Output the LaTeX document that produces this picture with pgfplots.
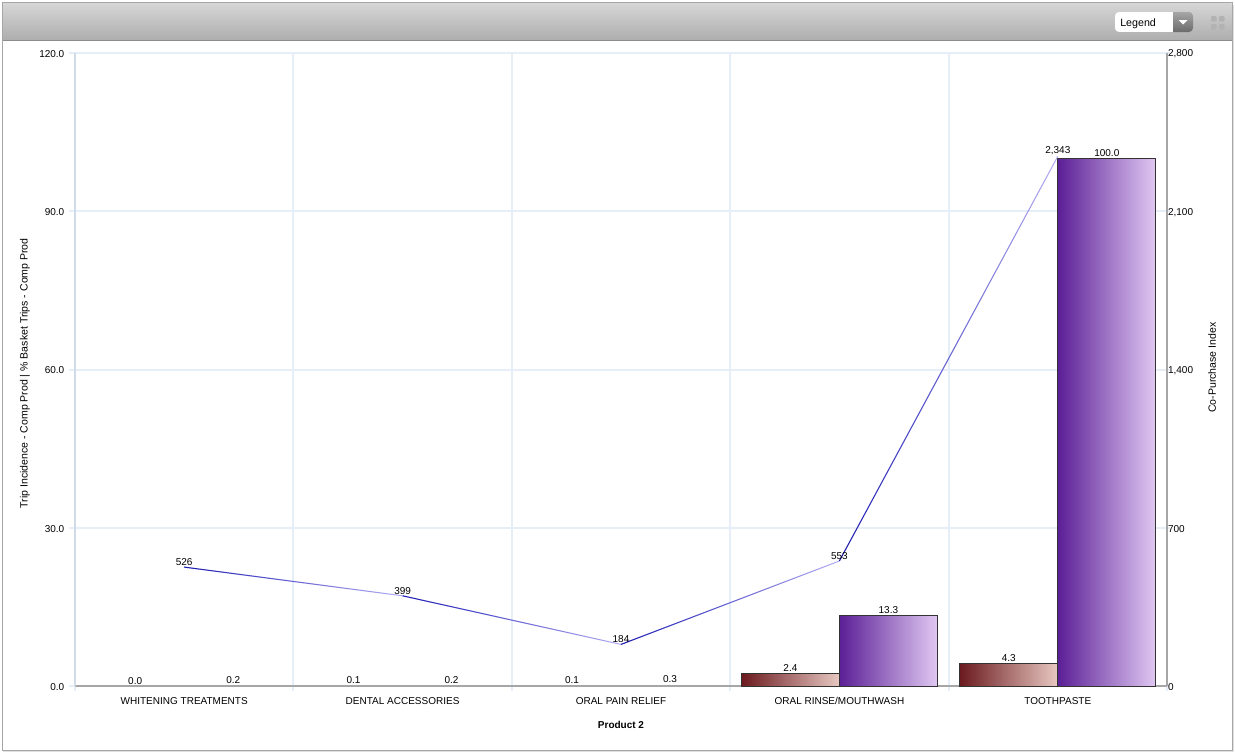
\documentclass[border=0pt]{standalone}
\usepackage{fontspec}
\setmainfont{Liberation Sans}
\usepackage{pgfplots}
\usepackage{pgfplotstable}
\pgfplotsset{compat=1.18}
\usetikzlibrary{fadings}

\definecolor{gridc}{HTML}{E6EEF8}
\definecolor{yaxc}{HTML}{D0DBE9}
\definecolor{axc}{HTML}{A6A6A6}
\definecolor{barline}{HTML}{333333}
\definecolor{marL}{HTML}{6B1A1E}
\definecolor{marR}{HTML}{E8C8C2}
\definecolor{purL}{HTML}{5B1F96}
\definecolor{purR}{HTML}{E0C8F2}
\definecolor{lineD}{HTML}{1C1CB0}
\definecolor{lineL}{HTML}{B4AEF4}

% x = category position, 0 to 4
\pgfplotstableread{
x trip
0 0.0
1 0.1
2 0.1
}\tripsmall
\pgfplotstableread{
x basket
0 0.2
1 0.2
2 0.3
}\basketsmall
\pgfplotstableread{
x index
0 526
1 399
2 184
3 553
4 2343
}\copurchase

\pgfplotsset{
  common/.style={
    scale only axis, width=819pt, height=474.75pt,
    at={(56.25pt,-514.5pt)}, anchor=south west,
    xmin=-0.5, xmax=4.5, ymin=0,
    tick label style={font=\fontsize{7.5}{9}\selectfont},
    label style={font=\fontsize{7.9}{9}\selectfont},
    /pgf/number format/assume math mode=true,
    axis line style={-},
  },
  seg/.style={draw=lineD, line width=0.75pt, path fading=east},
  seglight/.style={draw=lineL, line width=0.75pt},
  barlab/.style={
    nodes near coords,
    every node near coord/.style={font=\fontsize{7.5}{9}\selectfont, inner sep=1pt, text=black,
      xshift=#1,
      /pgf/number format/.cd, fixed, fixed zerofill, precision=1, assume math mode=true},
  },
  tripbar/.style={bar shift=-0.2243, barlab=-36.75pt},
  basketbar/.style={bar shift=0.2243, barlab=36.75pt},
  shown/.style={draw=barline, line width=0.75pt},
}

\begin{document}
\begin{tikzpicture}
\useasboundingbox (0,0) rectangle (926.25pt,-565.5pt);
\begin{scope}[x=0.75pt,y=-0.75pt]
  \fill[white] (0,0) rectangle (1235,754);
  \fill[black!12] (3,5) rectangle (1234,752);
  \fill[white] (2.5,2.5) rectangle (1232,750);
  \draw[axc, line width=0.75pt] (2.5,2.5) rectangle (1232,750);
  \shade[top color=black!16, bottom color=black!32] (3,3) rectangle (1231.5,40);
  \draw[black!45, line width=0.5pt] (3,40) -- (1231.5,40);
  % legend drop-down
  \begin{scope}
    \clip[rounded corners=3pt] (1115,12) rectangle (1193,32);
    \fill[white] (1115,12) rectangle (1173,32);
    \shade[top color=black!35, bottom color=black!58] (1173,12) rectangle (1193,32);
  \end{scope}
  \fill[white] (1178.5,20) -- (1187.5,20) -- (1183,24.5) -- cycle;
  \node[anchor=west, inner sep=0pt, font=\fontsize{8}{9}\selectfont] at (1120,23.5) {Legend};
  % expand icon
  \foreach \a/\b in {1211/16,1219/16,1211/24,1219/24}
    \fill[black!30, rounded corners=0.8pt] (\a,\b) rectangle (\a+5.5,\b+5.5);
\end{scope}

\begin{axis}[common,
  ymax=120, ytick={0,30,...,120},
  axis x line*=bottom, axis y line*=left,
  x axis line style={axc, line width=0.9pt},
  y axis line style={yaxc, line width=0.9pt},
  xtick={0,1,2,3,4},
  xticklabels={WHITENING TREATMENTS,DENTAL ACCESSORIES,ORAL PAIN RELIEF,ORAL RINSE/MOUTHWASH,TOOTHPASTE},
  major x tick style={draw=none},
  minor xtick={-0.5,0.5,1.5,2.5,3.5,4.5},
  xminorgrids=true, ymajorgrids=true,
  grid style={gridc, line width=1.5pt},
  minor grid style={gridc, line width=1.5pt},
  tick align=outside,
  minor tick length=3.75pt, major tick length=4.5pt,
  minor tick style={gridc, line width=1.5pt},
  y tick style={gridc, line width=1.5pt},
  xticklabel style={yshift=-0.5pt},
  yticklabel style={yshift=-0.6pt, /pgf/number format/.cd, fixed, fixed zerofill, precision=1},
  xlabel={\fontsize{7.5}{9}\selectfont\textbf{Product 2}},
  ylabel={Trip Incidence - Comp Prod | \% Basket Trips - Comp Prod},
  xlabel style={at={(axis description cs:0.5,-0.0616)}, anchor=center},
  ylabel style={at={(axis description cs:-0.0458,0.494)}, anchor=center},
  ybar, bar width=0.4487,
]
% bars too low to show: labels only
\addplot[tripbar, draw=none, fill=none] table[x=x,y=trip] {\tripsmall};
\addplot[basketbar, draw=none, fill=none] table[x=x,y=basket] {\basketsmall};
% one plot per bar, so that each bar has its own gradient
\addplot[tripbar, shown, left color=marL, right color=marR] coordinates {(3,2.4)};
\addplot[tripbar, shown, left color=marL, right color=marR] coordinates {(4,4.3)};
\addplot[basketbar, shown, left color=purL, right color=purR] coordinates {(3,13.3)};
\addplot[basketbar, shown, left color=purL, right color=purR] coordinates {(4,100.0)};
\end{axis}

\begin{axis}[common,
  ymax=2800, ytick={0,700,...,2800},
  axis x line=none, axis y line*=right,
  y axis line style={axc, line width=0.9pt},
  tick align=outside, major tick length=2.25pt,
  y tick style={gridc, line width=1.5pt},
  yticklabel style={xshift=-5pt, yshift=-0.8pt, /pgf/number format/.cd, fixed, 1000 sep={,}},
  ylabel={Co-Purchase Index},
  ylabel style={at={(axis description cs:1.0412,0.503)}, anchor=center},
]
\addplot[seglight] coordinates {(0,526) (1,399)};
\addplot[seg] coordinates {(0,526) (1,399)};
\addplot[seglight] coordinates {(1,399) (2,184)};
\addplot[seg] coordinates {(1,399) (2,184)};
\addplot[seglight] coordinates {(2,184) (3,553)};
\addplot[seg] coordinates {(2,184) (3,553)};
\addplot[seglight] coordinates {(3,553) (4,2343)};
\addplot[seg] coordinates {(3,553) (4,2343)};
\addplot[draw=none, nodes near coords,
  every node near coord/.style={font=\fontsize{7.5}{9}\selectfont, inner sep=1pt, text=black,
    /pgf/number format/.cd, fixed, 1000 sep={,}, assume math mode=true},
] table[x=x,y=index] {\copurchase};
\end{axis}
\end{tikzpicture}
\end{document}
